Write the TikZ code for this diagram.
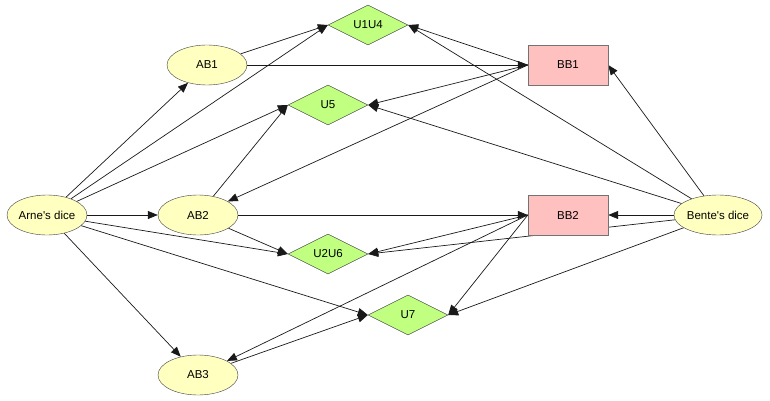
\documentclass[tikz,border=0pt]{standalone}
\usepackage{fontspec}
\setmainfont{Liberation Sans}
\usetikzlibrary{shapes.geometric, arrows.meta, backgrounds}

\definecolor{chance}{RGB}{255,255,192}
\definecolor{utility}{RGB}{192,255,128}
\definecolor{decision}{RGB}{255,192,192}

\begin{document}
\begin{tikzpicture}[x=1pt, y=-1pt,
    font=\fontsize{11.5}{13}\selectfont,
    dice/.style={draw=black!75, fill=chance, ellipse, inner sep=0pt,
        minimum width=80pt, minimum height=40pt},
    util/.style={draw=black!75, fill=utility, diamond, inner sep=0pt,
        minimum width=80pt, minimum height=40pt},
    bet/.style={draw=black!55, fill=decision, rectangle, inner sep=0pt,
        minimum width=80pt, minimum height=40pt},
    arr/.style={-{Triangle[length=10pt, width=8pt]}, line width=0.7pt, black!90}]
    \useasboundingbox (0,0) rectangle (770,401);

    % chance nodes
    \node[dice] (Arne) at (47,215) {Arne\textquotesingle s dice};
    \node[dice] (AB1) at (207,65) {AB1};
    \node[dice] (AB2) at (198,215) {AB2};
    \node[dice] (AB3) at (198,375) {AB3};
    \node[dice] (Bente) at (718,215) {Bente\textquotesingle s dice};

    % utilities
    \node[util] (U1U4) at (368,25) {U1U4};
    \node[util] (U5) at (328,105) {U5};
    \node[util] (U2U6) at (328,254) {U2U6};
    \node[util] (U7) at (408,315) {U7};

    % decisions
    \node[bet] (BB1) at (568,65) {BB1};
    \node[bet] (BB2) at (568,215) {BB2};

    \begin{scope}[on background layer]
        \draw[arr] (Arne) -- (AB1);
        \draw[arr] (Arne) -- (U1U4.west);
        \draw[arr] (Arne) -- (U5.west);
        \draw[arr] (Arne) -- (AB2);
        \draw[arr] (Arne) -- (U2U6.west);
        \draw[arr] (Arne) -- (U7.west);
        \draw[arr] (Arne) -- (AB3);

        \draw[arr] (AB1) -- (U1U4.west);
        \draw[arr] (AB1) -- (BB1.west);
        \draw[arr] (AB2) -- (U5.west);
        \draw[arr] (AB2) -- (U2U6.west);
        \draw[arr] (AB2) -- (BB2.west);
        \draw[arr] (AB3) -- (U7.west);

        \draw[arr] (BB1.west) -- (U1U4.east);
        \draw[arr] (BB1.west) -- (U5.east);
        \draw[arr] (BB1.west) -- (AB2);
        \draw[arr] (BB2.west) -- (U2U6.east);
        \draw[arr] (BB2.west) -- (U7.east);
        \draw[arr] (BB2.west) -- (AB3);

        \draw[arr] (Bente) -- (U1U4.east);
        \draw[arr] (Bente) -- (U5.east);
        \draw[arr] (Bente) -- (BB1.east);
        \draw[arr] (Bente) -- (BB2.east);
        \draw[arr] (Bente) -- (U2U6.east);
        \draw[arr] (Bente) -- (U7.east);
    \end{scope}
\end{tikzpicture}
\end{document}
